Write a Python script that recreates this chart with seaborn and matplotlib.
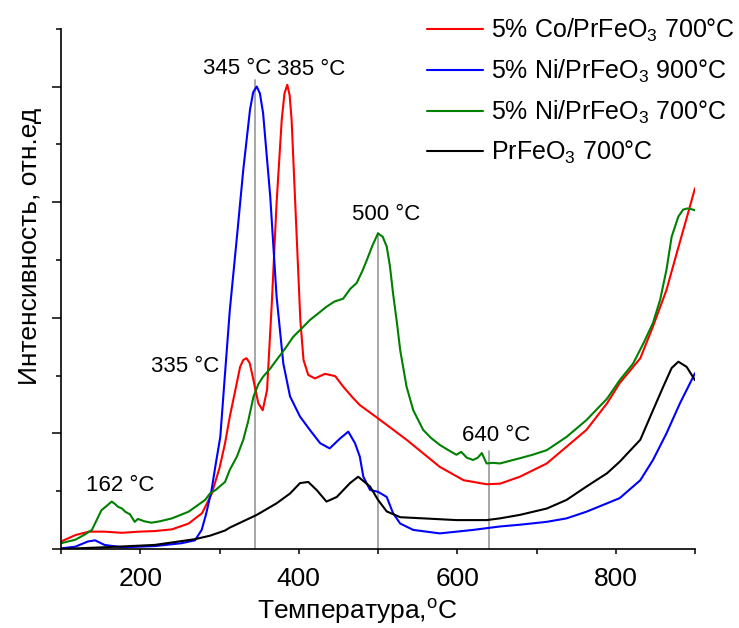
import numpy as np
import pandas as pd
import matplotlib
matplotlib.use("Agg")
import matplotlib.pyplot as plt
from matplotlib.ticker import MultipleLocator, NullFormatter
import seaborn as sns

# ---- TPR profiles (temperature, °C ; intensity, arb. units) ----
t_co700 = [100, 110, 118, 135, 155, 177, 198, 218, 240, 261, 278, 290, 300, 307, 313,
           320, 326, 330, 334, 338, 341, 345, 349, 354.5, 360, 366, 372, 378.5, 382, 385.5, 388.5,
           391, 396.5, 402, 406, 412, 420.5, 433, 446, 456, 468, 477, 500, 536, 578, 608, 637,
           654, 679, 713, 738, 763, 789, 805, 831, 847, 864, 877, 890, 900]
i_co700 = [0.13, 0.19, 0.24, 0.30, 0.30, 0.28, 0.30, 0.31, 0.34, 0.44, 0.62, 0.95, 1.40, 1.83, 2.29,
           2.75, 3.15, 3.27, 3.30, 3.22, 3.04, 2.78, 2.52, 2.40, 2.75, 4.25, 5.98, 7.42, 7.88, 8.03, 7.85,
           7.42, 5.69, 3.96, 3.27, 3.01, 2.95, 3.03, 2.99, 2.81, 2.62, 2.49, 2.26, 1.89, 1.42, 1.19, 1.12,
           1.13, 1.25, 1.48, 1.77, 2.06, 2.52, 2.87, 3.30, 3.85, 4.48, 5.12, 5.75, 6.24]

t_ni900 = [100, 118, 134, 143, 155, 177, 218, 252, 269, 277.5, 283, 290, 295, 301, 307, 313,
           322, 330, 338.5, 342.5, 347, 351, 355, 364, 372, 380.5, 389, 401.6, 414, 427, 439, 452,
           462.5, 471, 477, 481.5, 490, 500, 511, 519, 528, 544.5, 578, 620, 637, 654, 679, 713,
           738, 763, 789, 805, 831, 847, 864, 881, 900]
i_ni900 = [0.01, 0.04, 0.13, 0.15, 0.07, 0.03, 0.05, 0.10, 0.15, 0.33, 0.60, 1.02, 1.45, 1.94, 3.04, 4.13,
           5.40, 6.56, 7.60, 7.90, 8.00, 7.88, 7.54, 6.10, 4.37, 3.21, 2.64, 2.29, 2.06, 1.83, 1.74, 1.91,
           2.03, 1.83, 1.60, 1.25, 1.02, 0.99, 0.90, 0.62, 0.44, 0.33, 0.27, 0.33, 0.36, 0.39, 0.42, 0.47,
           0.53, 0.645, 0.79, 0.88, 1.19, 1.54, 2.00, 2.52, 3.04]

t_ni700 = [100, 118, 130, 139, 151, 158, 164, 168, 172, 177, 181, 187, 193, 197, 205, 214, 225,
           240, 261, 282, 288, 295, 307, 313, 322, 330, 336, 343, 349, 355, 364, 372, 383, 393,
           404, 414, 425, 435, 445, 456, 465, 473, 480, 486, 493, 500, 506, 511, 515, 519, 524,
           528, 536, 544.5, 557, 567, 578, 590, 599, 605, 612, 620, 626, 631, 637, 645, 654,
           665, 679, 695, 713, 738, 763, 789, 805, 822, 835, 847, 856, 864, 870.5, 879, 885,
           890, 895, 900]
i_ni700 = [0.10, 0.16, 0.25, 0.33, 0.67, 0.75, 0.82, 0.78, 0.73, 0.70, 0.645, 0.60, 0.47, 0.52, 0.48, 0.455, 0.48,
           0.53, 0.645, 0.85, 0.96, 1.02, 1.16, 1.37, 1.60, 1.89, 2.20, 2.64, 2.85, 2.98, 3.12, 3.27, 3.47, 3.67,
           3.82, 3.96, 4.08, 4.19, 4.28, 4.33, 4.50, 4.60, 4.80, 5.00, 5.25, 5.46, 5.40, 5.23, 4.90, 4.42, 3.90,
           3.44, 2.81, 2.40, 2.06, 1.92, 1.80, 1.70, 1.63, 1.68, 1.58, 1.54, 1.58, 1.66, 1.48, 1.49, 1.48,
           1.52, 1.57, 1.63, 1.71, 1.94, 2.23, 2.60, 2.92, 3.21, 3.56, 3.91, 4.31, 4.83, 5.40, 5.75, 5.87,
           5.89, 5.88, 5.86]

t_base = [100, 155, 218, 269, 288, 307, 313, 347, 372, 389, 401.6, 412, 422.6, 435, 448, 464.7,
          475, 490, 500, 511, 528, 557, 599, 637, 654, 679, 713, 738, 763, 789, 805, 831, 847,
          860, 870.5, 879, 889.5, 900]
i_base = [0.00, 0.03, 0.07, 0.17, 0.23, 0.32, 0.37, 0.59, 0.79, 0.96, 1.14, 1.16, 1.02, 0.82, 0.90, 1.14,
          1.25, 1.08, 0.85, 0.65, 0.55, 0.53, 0.50, 0.50, 0.53, 0.59, 0.70, 0.85, 1.08, 1.31, 1.51, 1.89, 2.40,
          2.81, 3.13, 3.24, 3.15, 2.92]

series_names = ["5% Co/PrFeO$_3$ 700°C", "5% Ni/PrFeO$_3$ 900°C",
                "5% Ni/PrFeO$_3$ 700°C", "PrFeO$_3$ 700°C"]
series_colors = ["#ff0000", "#0000ff", "#008000", "#000000"]

# peak markers: temperature, top of guide line, label text
peak_temps = [345, 500, 640]
peak_line_tops = [8.11, 5.46, 1.70]
annot_text = ["345 °C", "385 °C", "500 °C", "335 °C", "162 °C", "640 °C"]
annot_x = [322, 415.5, 510, 257, 175, 649]
annot_y = [8.32, 8.29, 5.78, 3.15, 1.09, 1.97]

# ---- build long-form table ----
frames = []
for name, t, i in zip(series_names,
                      [t_co700, t_ni900, t_ni700, t_base],
                      [i_co700, i_ni900, i_ni700, i_base]):
    frames.append(pd.DataFrame({"T": t, "I": i, "sample": name}))
df = pd.concat(frames, ignore_index=True)

sns.set_style("ticks")
plt.rcParams["font.family"] = ["Liberation Sans", "DejaVu Sans"]
plt.rcParams["mathtext.fontset"] = "custom"
plt.rcParams["mathtext.rm"] = "Liberation Sans"
plt.rcParams["mathtext.it"] = "Liberation Sans:italic"
plt.rcParams["mathtext.bf"] = "Liberation Sans:bold"
for key in ["text.color", "axes.labelcolor", "xtick.color", "ytick.color", "axes.edgecolor"]:
    plt.rcParams[key] = "black"

fig = plt.figure(figsize=(7.39, 6.28), dpi=100)
ax = fig.add_axes([61 / 739, 79 / 628, 634 / 739, 520.3 / 628])

# grey guide lines under the curves
for t, top in zip(peak_temps, peak_line_tops):
    ax.plot([t, t], [0, top], color="#a0a0a0", lw=1.3, zorder=1)

sns.lineplot(data=df, x="T", y="I", hue="sample", hue_order=series_names,
             palette=series_colors, sort=False, estimator=None, lw=1.5,
             ax=ax, zorder=2)

for s, x, y in zip(annot_text, annot_x, annot_y):
    ax.text(x, y, s, ha="center", va="center", fontsize=16, color="black")

ax.set_xlim(100, 900)
ax.set_ylim(0, 9)
sns.despine(ax=ax)
for side in ["left", "bottom"]:
    ax.spines[side].set_linewidth(1.2)

ax.xaxis.set_major_locator(MultipleLocator(200))
ax.xaxis.set_minor_locator(MultipleLocator(100))
ax.yaxis.set_major_locator(MultipleLocator(2))
ax.yaxis.set_minor_locator(MultipleLocator(1))
ax.yaxis.set_major_formatter(NullFormatter())
ax.tick_params(axis="x", which="both", length=3.8, width=1.1, direction="out",
               labelsize=19, pad=9)
ax.tick_params(axis="y", which="major", length=6.5, width=1.1, direction="out")
ax.tick_params(axis="y", which="minor", length=3.3, width=1.1, direction="out")

ax.set_xlabel("Температура,$^{\\mathrm{o}}$C", fontsize=19)
ax.set_ylabel("Интенсивность, отн.ед", fontsize=19)
ax.xaxis.set_label_coords(0.467, -0.092)
ax.yaxis.set_label_coords(-0.03, 0.582)

handles, labels = ax.get_legend_handles_labels()
ax.legend(handles, labels, loc="upper left", bbox_to_anchor=(427 / 739, 1 - 17 / 628),
          bbox_transform=fig.transFigure, frameon=False, fontsize=18,
          handlelength=2.25, handletextpad=0.3, labelspacing=0.54,
          borderpad=0, borderaxespad=0, title=None)

fig.savefig("out.png", dpi=100)
